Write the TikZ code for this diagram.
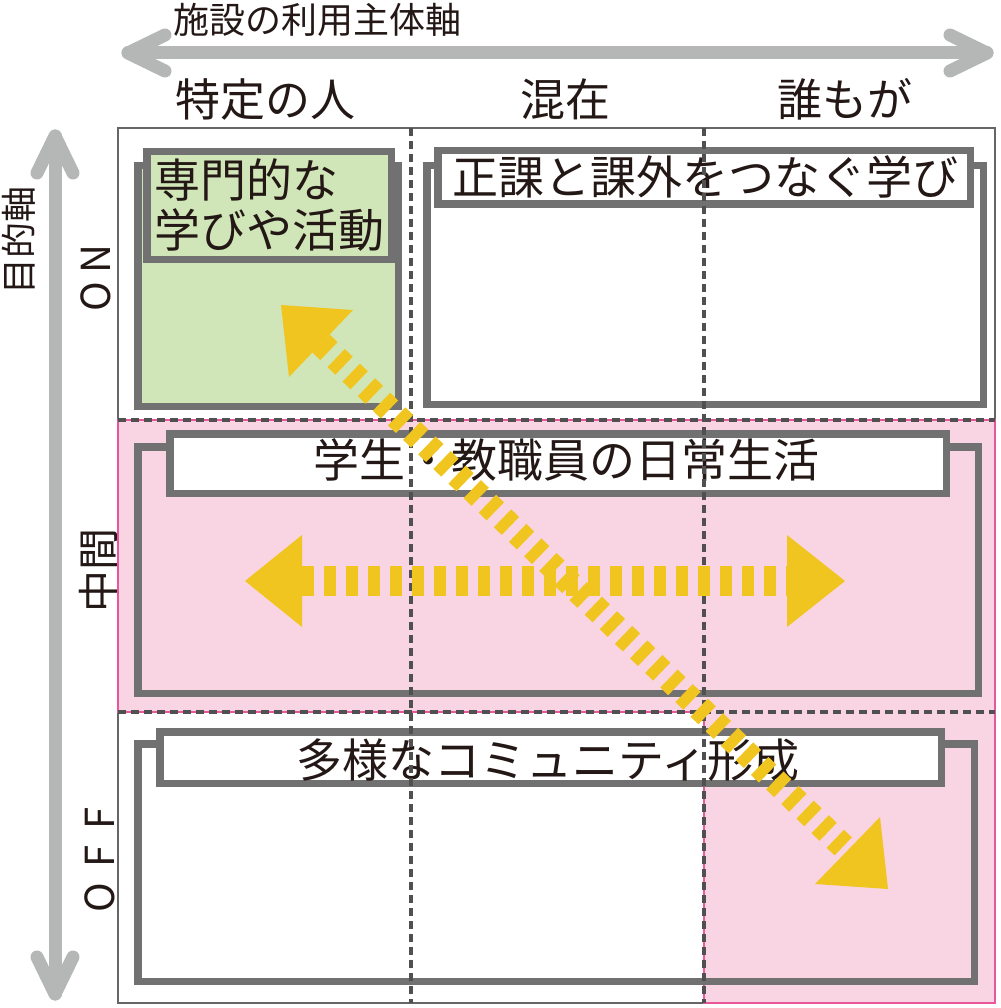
\documentclass[tikz,border=0pt]{standalone}
\usepackage{fontspec}
\usetikzlibrary{calc}
\setmainfont{Noto Sans CJK JP}
\definecolor{ink}{HTML}{231815}
\definecolor{axisgray}{HTML}{B5B6B6}
\definecolor{boxgray}{HTML}{727171}
\definecolor{framegray}{HTML}{666666}
\definecolor{dashgray}{HTML}{505050}
\definecolor{pinkfill}{HTML}{F9D5E3}
\definecolor{pinkline}{HTML}{E8579B}
\definecolor{greenfill}{HTML}{D1E6B8}
\definecolor{arrowyellow}{HTML}{F1C520}
\begin{document}
\begin{tikzpicture}[x=1pt,y=-1pt,
  boxline/.style={draw=boxgray, line width=7.5},
  gridline/.style={draw=dashgray, line width=3.2, dash pattern=on 8 off 5},
  axisline/.style={draw=axisgray, line width=13, line cap=round, line join=round},
  lbl/.style={inner sep=0, text=ink},
  fa/.style={font=\fontsize{36}{40}\selectfont},
  fb/.style={font=\fontsize{45}{50}\selectfont},
  fc/.style={font=\fontsize{46}{50}\selectfont},
  hbar/.style={draw=arrowyellow, line width=30, dash pattern=on 12 off 10},
  dbar/.style={draw=arrowyellow, line width=25, dash pattern=on 11 off 10},
  headfill/.style={fill=arrowyellow}]
\useasboundingbox (0,0) rectangle (1000,1008);
\fill[white] (0,0) rectangle (1000,1008);

% axes
\coordinate (axL) at (128,53);
\coordinate (axR) at (987,53);
\coordinate (ayT) at (55,136);
\coordinate (ayB) at (55,994);
\draw[axisline] (axL) -- (axR);
\draw[axisline] ($(axL)+(37,-18)$) -- (axL) -- ($(axL)+(37,18)$);
\draw[axisline] ($(axR)+(-37,-18)$) -- (axR) -- ($(axR)+(-37,18)$);
\draw[axisline] (ayT) -- (ayB);
\draw[axisline] ($(ayT)+(-18,37)$) -- (ayT) -- ($(ayT)+(18,37)$);
\draw[axisline] ($(ayB)+(-18,-37)$) -- (ayB) -- ($(ayB)+(18,-37)$);

\node[lbl,fa] (axtitle) at (317,20) {施設の利用主体軸};
\node[lbl,fa,rotate=90] (aytitle) at (19,240) {目的軸};
\node[lbl,fb] (c1) at (265,99) {特定の人};
\node[lbl,fb] (c2) at (565,99) {混在};
\node[lbl,fb] (c3) at (845,99) {誰もが};
\node[lbl,font=\fontsize{40}{44}\selectfont,rotate=90] (r1) at (96,278) {O\hspace{8pt}N};
\node[lbl,font=\fontsize{42}{46}\selectfont,rotate=90] (r2) at (99,570) {中間};
\node[lbl,font=\fontsize{40}{44}\selectfont,rotate=90] (r3) at (100,860) {O\hspace{16pt}F\hspace{16pt}F};

% frame and pink region
\draw[framegray, line width=2.8] (118,128) rectangle (995,1003);
\draw[pinkline, fill=pinkfill, line width=2] (118,420) -- (995,420) -- (995,1003) -- (704,1003) -- (704,712) -- (118,712) -- cycle;

% box 1 (green)
\draw[boxline, fill=greenfill] (137.75,165.75) rectangle (398.25,406.25);
\draw[boxline, fill=greenfill] (146.75,151.75) rectangle (391.25,259.25);
\node[lbl,fc,anchor=west] (t1a) at (154,180) {専門的な};
\node[lbl,fc,anchor=west] (t1b) at (154,230) {学びや活動};

% box 2
\draw[boxline, fill=white] (426.75,165.75) rectangle (983.25,404.25);
\draw[boxline, fill=white] (437.75,150.75) rectangle (970.25,204.25);
\node[lbl,fc] (t2) at (705,177) {正課と課外をつなぐ学び};

% box 3
\draw[boxline] (137.75,446.75) rectangle (978.25,693.25);
\draw[boxline, fill=white] (169.75,433.75) rectangle (946.25,493.25);
\node[lbl,fc] (t3) at (566,460) {学生・教職員の日常生活};

% box 4
\draw[boxline] (137.75,743.75) rectangle (974.25,981.25);
\draw[boxline, fill=white] (159.75,731.75) rectangle (941.25,783.25);
\node[lbl,fc] (t4) at (548,760) {多様なコミュニティ形成};

% grid dashed lines
\draw[gridline] (411,128) -- (411,1003);
\draw[gridline] (704,128) -- (704,1003);
\draw[gridline] (118,420) -- (995,420);
\draw[gridline] (118,712) -- (995,712);

% horizontal yellow arrow
\coordinate (hL) at (302,581);
\coordinate (hR) at (787,581);
\draw[hbar] (hL) -- (hR);
\fill[headfill] (245,581) -- (302,535) -- (302,627) -- cycle;
\fill[headfill] (845,581) -- (787,535) -- (787,627) -- cycle;

% diagonal yellow arrow
\coordinate (dTL) at (321,343.5);
\coordinate (dBR) at (847.5,850.5);
\draw[dbar] (dTL) -- (dBR);
\fill[headfill] (281,305) -- (353,310) -- (289,377) -- cycle;
\fill[headfill] (888,889) -- (880,817) -- (815,884) -- cycle;
\end{tikzpicture}
\end{document}
